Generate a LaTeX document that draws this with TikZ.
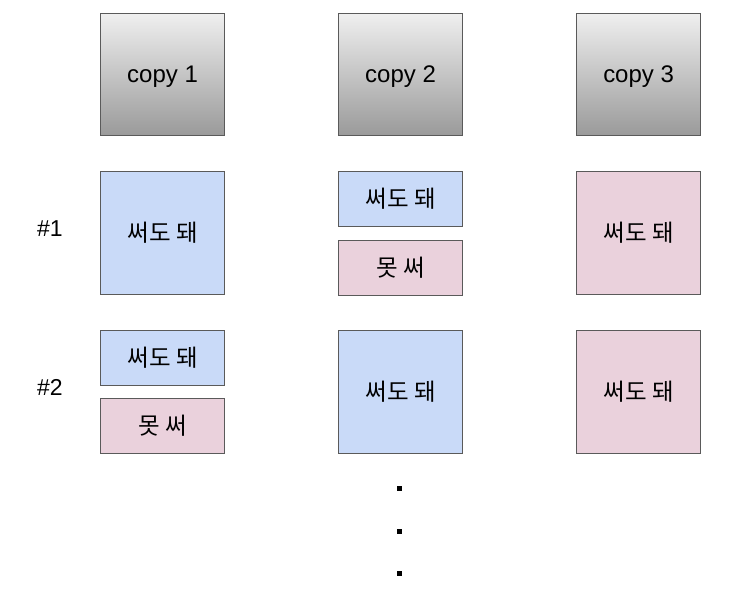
\documentclass[tikz,border=0pt]{standalone}
\usepackage{fontspec}
\setmainfont{Liberation Sans}
\newfontfamily\kr{Noto Sans CJK KR}
\definecolor{okblue}{HTML}{C9DAF8}
\definecolor{nopink}{HTML}{EAD1DC}
\definecolor{edge}{HTML}{5A5A5A}
\definecolor{gtop}{HTML}{EFEFEF}
\definecolor{gbot}{HTML}{9A9A9A}
\begin{document}
\begin{tikzpicture}[x=1pt,y=-1pt,
  box/.style={draw=edge,line width=1.2pt,inner sep=0pt,anchor=north west,font=\fontsize{24}{28}\selectfont},
  copybox/.style={box,top color=gtop,bottom color=gbot,minimum width=124pt,minimum height=122pt,text depth=-3pt},
  big/.style={box,minimum width=124pt,minimum height=123pt,font=\kr\fontsize{23.5}{28}\selectfont},
  small/.style={box,minimum width=124pt,minimum height=55pt,font=\kr\fontsize{23.5}{28}\selectfont},
  ok/.style={fill=okblue},
  no/.style={fill=nopink},
  lbl/.style={font=\fontsize{23}{28}\selectfont},
  dotmark/.style={fill=black,minimum size=5pt,inner sep=0pt}]
\useasboundingbox (0,0) rectangle (745,607);
\fill[white] (0,0) rectangle (745,607);
% copies
\node[copybox] (c1) at (100,13) {copy 1};
\node[copybox] (c2) at (338,13) {copy 2};
\node[copybox] (c3) at (576,13) {copy 3};
% row 1
\node[lbl] (r1) at (50,229) {\#1};
\node[big,ok] (a1) at (100,171) {써도 돼};
\node[small,ok] (b1) at (338,171) {써도 돼};
\node[small,no] (b2) at (338,240) {못 써};
\node[big,no] (d1) at (576,171) {써도 돼};
% row 2
\node[lbl] (r2) at (50,387) {\#2};
\node[small,ok] (a2) at (100,330) {써도 돼};
\node[small,no] (a3) at (100,398) {못 써};
\node[big,ok] (b3) at (338,330) {써도 돼};
\node[big,no] (d2) at (576,330) {써도 돼};
% dots
\node[dotmark] (p1) at (399,488) {};
\node[dotmark] (p2) at (399,531) {};
\node[dotmark] (p3) at (399,573) {};
\end{tikzpicture}
\end{document}
